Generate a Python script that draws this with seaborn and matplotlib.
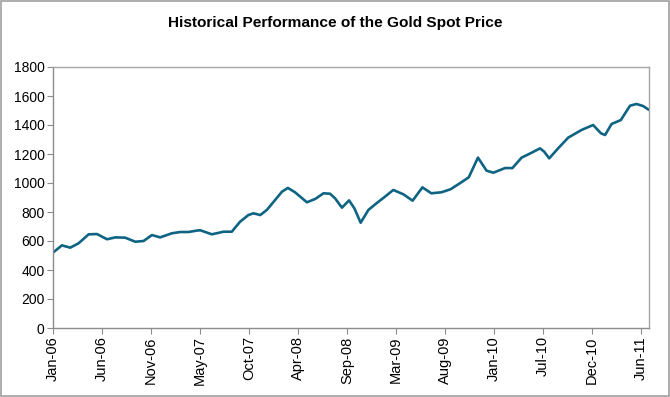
import matplotlib
matplotlib.use("Agg")
import matplotlib.pyplot as plt
from matplotlib.patches import Rectangle
import seaborn as sns
import pandas as pd

# ---- data ----
dates = [
    "2006-01-03", "2006-02-02", "2006-03-02", "2006-03-30", "2006-05-03", "2006-05-31",
    "2006-07-04", "2006-08-01", "2006-09-03", "2006-10-07", "2006-11-04", "2006-12-02",
    "2006-12-30", "2007-02-07", "2007-03-07", "2007-04-04", "2007-05-03", "2007-05-14",
    "2007-06-22", "2007-07-31", "2007-08-28", "2007-09-25", "2007-10-23", "2007-11-09",
    "2007-12-02", "2007-12-24", "2008-01-21", "2008-02-13", "2008-03-04", "2008-03-28",
    "2008-05-07", "2008-06-04", "2008-07-02", "2008-07-24", "2008-08-10", "2008-09-02",
    "2008-09-26", "2008-10-14", "2008-11-04", "2008-11-30", "2008-12-23", "2009-01-25",
    "2009-02-22", "2009-03-28", "2009-04-28", "2009-05-31", "2009-06-30", "2009-08-03",
    "2009-09-03", "2009-10-04", "2009-11-03", "2009-12-04", "2010-01-02", "2010-01-25",
    "2010-03-05", "2010-03-30", "2010-04-30", "2010-06-03", "2010-07-01", "2010-07-15",
    "2010-08-01", "2010-08-31", "2010-10-04", "2010-11-18", "2010-12-27", "2011-01-22",
    "2011-02-05", "2011-02-27", "2011-03-30", "2011-04-30", "2011-05-22", "2011-06-13",
    "2011-07-03",
]
prices = [
    520, 570, 554, 584, 646, 648,
    612, 625, 623, 595, 600, 641,
    625, 653, 662, 662, 672, 674,
    646, 664, 664, 733, 779, 791,
    779, 814, 883, 940, 966, 936,
    867, 890, 929, 926, 894, 830,
    880, 825, 726, 814, 853, 906,
    952, 922, 878, 970, 929, 936,
    957, 998, 1039, 1175, 1085, 1071,
    1103, 1103, 1175, 1209, 1239, 1216,
    1170, 1239, 1313, 1366, 1400, 1343,
    1331, 1407, 1434, 1533, 1545, 1531,
    1504,
]
tick_labels = ["Jan-06", "Jun-06", "Nov-06", "May-07", "Oct-07", "Apr-08", "Sep-08",
               "Mar-09", "Aug-09", "Jan-10", "Jul-10", "Dec-10", "Jun-11"]
y_ticks = [0, 200, 400, 600, 800, 1000, 1200, 1400, 1600, 1800]
title = "Historical Performance of the Gold Spot Price"

df = pd.DataFrame({"date": pd.to_datetime(dates), "price": prices})

sns.set_theme(style="white")
plt.rcParams["font.family"] = ["Liberation Sans", "DejaVu Sans"]

fig = plt.figure(figsize=(6.7, 3.97), dpi=100)
ax = fig.add_axes([53 / 670, 1 - 328 / 397, (649 - 53) / 670, (328 - 67) / 397])

sns.lineplot(data=df, x="date", y="price", ax=ax, color="#0e6482", linewidth=1.9)

ax.set_xlim(pd.Timestamp("2006-01-03"), pd.Timestamp("2011-07-03"))
ax.set_ylim(0, 1800)
ax.set_yticks(y_ticks)
ax.set_yticklabels([str(v) for v in y_ticks], fontsize=10)

tick_pos = pd.date_range("2006-01-03", periods=len(tick_labels), freq="165D")
ax.set_xticks(tick_pos)
ax.set_xticklabels(tick_labels, rotation=90, fontsize=10.5)

ax.set_xlabel("")
ax.set_ylabel("")
for s in ax.spines.values():
    s.set_color("#a6a6a6")
    s.set_linewidth(1.0)
ax.spines["left"].set_color("#8c8c8c")
ax.spines["bottom"].set_color("#8c8c8c")
ax.tick_params(axis="both", which="major", length=4, width=0.8, color="#8c8c8c",
               direction="out", left=True, bottom=True, pad=2, labelcolor="black")
ax.grid(False)

fig.text(335 / 670, 1 - 23 / 397, title, ha="center", va="center", fontsize=11.1,
         fontweight="bold", color="black")

fig.patches.append(Rectangle((0.0015, 0.0025), 0.997, 0.995, transform=fig.transFigure,
                             fill=False, edgecolor="#a0a0a0", linewidth=1.2))

fig.savefig("out.png", dpi=100)
